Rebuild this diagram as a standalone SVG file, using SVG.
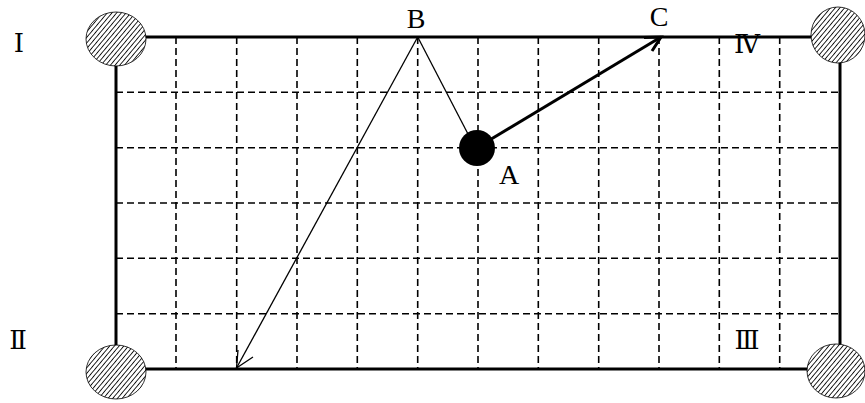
<svg xmlns="http://www.w3.org/2000/svg" width="865" height="403" viewBox="0 0 865 403">
<style>
.grid{stroke:#000;stroke-width:1.6;stroke-dasharray:7 4;fill:none}
.frame{stroke:#000;stroke-width:3;fill:none}
.thin{stroke:#000;stroke-width:1.3;fill:none}
.thick{stroke:#000;stroke-width:3;fill:none}
.lbl{font-family:"Liberation Serif","DejaVu Serif",serif;font-size:28px;fill:#000}
.rom{font-family:"Liberation Serif","DejaVu Serif",serif;font-size:26px;fill:#000}
.pocket{fill:url(#hatch);stroke:#000;stroke-width:0.8}
</style>
<defs>
<pattern id="hatch" patternUnits="userSpaceOnUse" width="3.6" height="3.6" patternTransform="rotate(40)">
<rect width="3.6" height="3.6" fill="#fff"/>
<line x1="0" y1="0" x2="0" y2="3.6" stroke="#000" stroke-width="1.7"/>
</pattern>
</defs>
<g id="table">
<g id="grid">
<path class="grid" d="M176,37V369M236.7,37V369M297,37V369M357.3,37V369M417.7,37V369M478,37V369M538.3,37V369M598.7,37V369M659,37V369M719.3,37V369M779.7,37V369"/>
<path class="grid" d="M116,92.3H840M116,147.7H840M116,203H840M116,258.3H840M116,313.7H840"/>
</g>
<rect class="frame" x="116" y="37" width="724" height="332"/>
</g>
<g id="pocket-I"><ellipse class="pocket" cx="116" cy="39" rx="30" ry="27"/><text class="rom" x="19" y="52" text-anchor="middle">Ⅰ</text></g>
<g id="pocket-II"><ellipse class="pocket" cx="116" cy="372" rx="30" ry="27"/><text class="rom" x="18" y="349" text-anchor="middle">Ⅱ</text></g>
<g id="pocket-III"><ellipse class="pocket" cx="836" cy="371" rx="29" ry="27"/><text class="rom" x="747" y="349" text-anchor="middle">Ⅲ</text></g>
<g id="pocket-IV"><ellipse class="pocket" cx="838" cy="35" rx="27" ry="28"/><text class="rom" x="747" y="53" text-anchor="middle">Ⅳ</text></g>
<g id="connectors">
<line class="thin" x1="417.7" y1="37" x2="468" y2="134"/>
<line class="thin" x1="417.7" y1="37" x2="236.5" y2="368"/>
<path class="thin" d="M238,350 L236.5,368 L253,357"/>
<line class="thick" x1="478" y1="147" x2="661" y2="37"/>
<path class="thick" d="M644,37.5 L661,37 L652,51"/>
</g>
<g id="ball-A"><circle cx="477" cy="148" r="18" fill="#000"/><text class="lbl" x="509" y="184" text-anchor="middle">A</text></g>
<g id="point-B"><text class="lbl" x="416" y="28" text-anchor="middle">B</text></g>
<g id="point-C"><text class="lbl" x="659" y="26" text-anchor="middle">C</text></g>
</svg>
